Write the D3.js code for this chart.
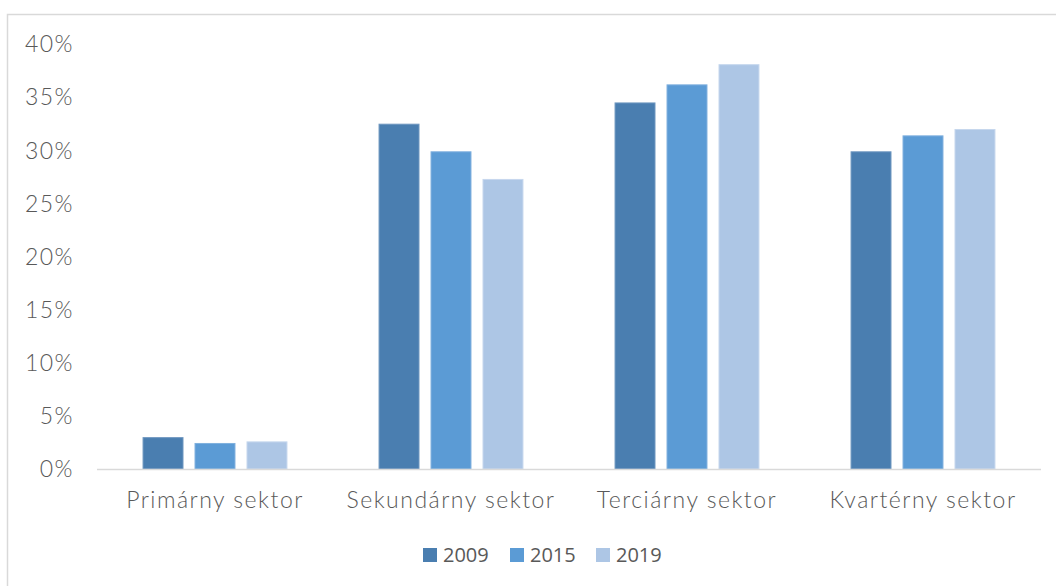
<!DOCTYPE html>
<html>
<head>
<meta charset="utf-8">
<script src="https://cdn.jsdelivr.net/npm/d3@7"></script>
<style>
  body { margin: 0; background: #fff; }
  svg { display: block; }
</style>
</head>
<body>
<svg id="chart"></svg>
<script>
// data
const categories = ["Primárny sektor", "Sekundárny sektor", "Terciárny sektor", "Kvartérny sektor"];
const years = ["2009", "2015", "2019"];
const values2009 = [3.0, 32.5, 34.5, 29.9];
const values2015 = [2.45, 29.9, 36.2, 31.4];
const values2019 = [2.6, 27.3, 38.1, 32.0];
const yTicks = [0, 5, 10, 15, 20, 25, 30, 35, 40];

const colors = ["#4a7eb0", "#5b9bd5", "#adc6e5"];
const strokes = ["#6f97c0", "#7fb0de", "#c6d7ed"];

const width = 1056;
const height = 586;
const plotLeft = 97, plotRight = 1041, plotTop = 44, plotBottom = 469;

const series = [values2009, values2015, values2019];

const svg = d3.select("#chart").attr("width", width).attr("height", height);

// frame
svg.append("rect")
    .attr("x", 7.5).attr("y", 14.5)
    .attr("width", width + 20).attr("height", height + 20)
    .attr("fill", "none")
    .attr("stroke", "#d9d9d9")
    .attr("stroke-width", 1.5);

const x0 = d3.scaleBand().domain(categories).range([plotLeft, plotRight])
    .paddingInner(0.386).paddingOuter(0.193);
const x1 = d3.scaleBand().domain(years).range([0, x0.bandwidth()])
    .paddingInner(0.212).paddingOuter(0);
const y = d3.scaleLinear().domain([0, 40]).range([plotBottom, plotTop]);

// y axis labels
svg.append("g").selectAll("text")
    .data(yTicks).enter().append("text")
    .attr("x", 74)
    .attr("y", d => y(d))
    .attr("dy", "0.36em")
    .attr("text-anchor", "end")
    .attr("font-family", "Lato, 'Noto Sans', sans-serif")
    .attr("font-weight", 300)
    .attr("font-size", 23)
    .attr("letter-spacing", 1.5)
    .attr("fill", "#595959")
    .text(d => d + "%");

// bars
const groups = svg.append("g").selectAll("g")
    .data(categories).enter().append("g")
    .attr("transform", d => `translate(${x0(d)},0)`);

groups.selectAll("rect")
    .data((c, ci) => years.map((yr, si) => ({ yr, si, v: series[si][ci] })))
    .enter().append("rect")
    .attr("x", d => x1(d.yr) + 0.5)
    .attr("y", d => y(d.v) + 0.5)
    .attr("width", x1.bandwidth() - 1)
    .attr("height", d => y(0) - y(d.v) - 0.5)
    .attr("fill", d => colors[d.si])
    .attr("stroke", d => strokes[d.si])
    .attr("stroke-width", 1);

// baseline
svg.append("line")
    .attr("x1", plotLeft).attr("x2", plotRight)
    .attr("y1", plotBottom + 0.5).attr("y2", plotBottom + 0.5)
    .attr("stroke", "#d9d9d9")
    .attr("stroke-width", 1.5);

// category labels
svg.append("g").selectAll("text")
    .data(categories).enter().append("text")
    .attr("x", d => x0(d) + x0.bandwidth() / 2)
    .attr("y", 500)
    .attr("dy", "0.36em")
    .attr("text-anchor", "middle")
    .attr("font-family", "Lato, 'Noto Sans', sans-serif")
    .attr("font-weight", 300)
    .attr("font-size", 23)
    .attr("letter-spacing", 1.5)
    .attr("fill", "#595959")
    .text(d => d);

// legend
const legendX = [423, 510, 596];
const legend = svg.append("g").selectAll("g")
    .data(years).enter().append("g")
    .attr("transform", (d, i) => `translate(${legendX[i]},548)`);

legend.append("rect")
    .attr("width", 14).attr("height", 14)
    .attr("fill", (d, i) => colors[i]);

legend.append("text")
    .attr("x", 20)
    .attr("y", 7)
    .attr("dy", "0.36em")
    .attr("font-family", "'Open Sans', 'Noto Sans', sans-serif")
    .attr("font-size", 20)
    .attr("fill", "#595959")
    .text(d => d);
</script>
</body>
</html>
